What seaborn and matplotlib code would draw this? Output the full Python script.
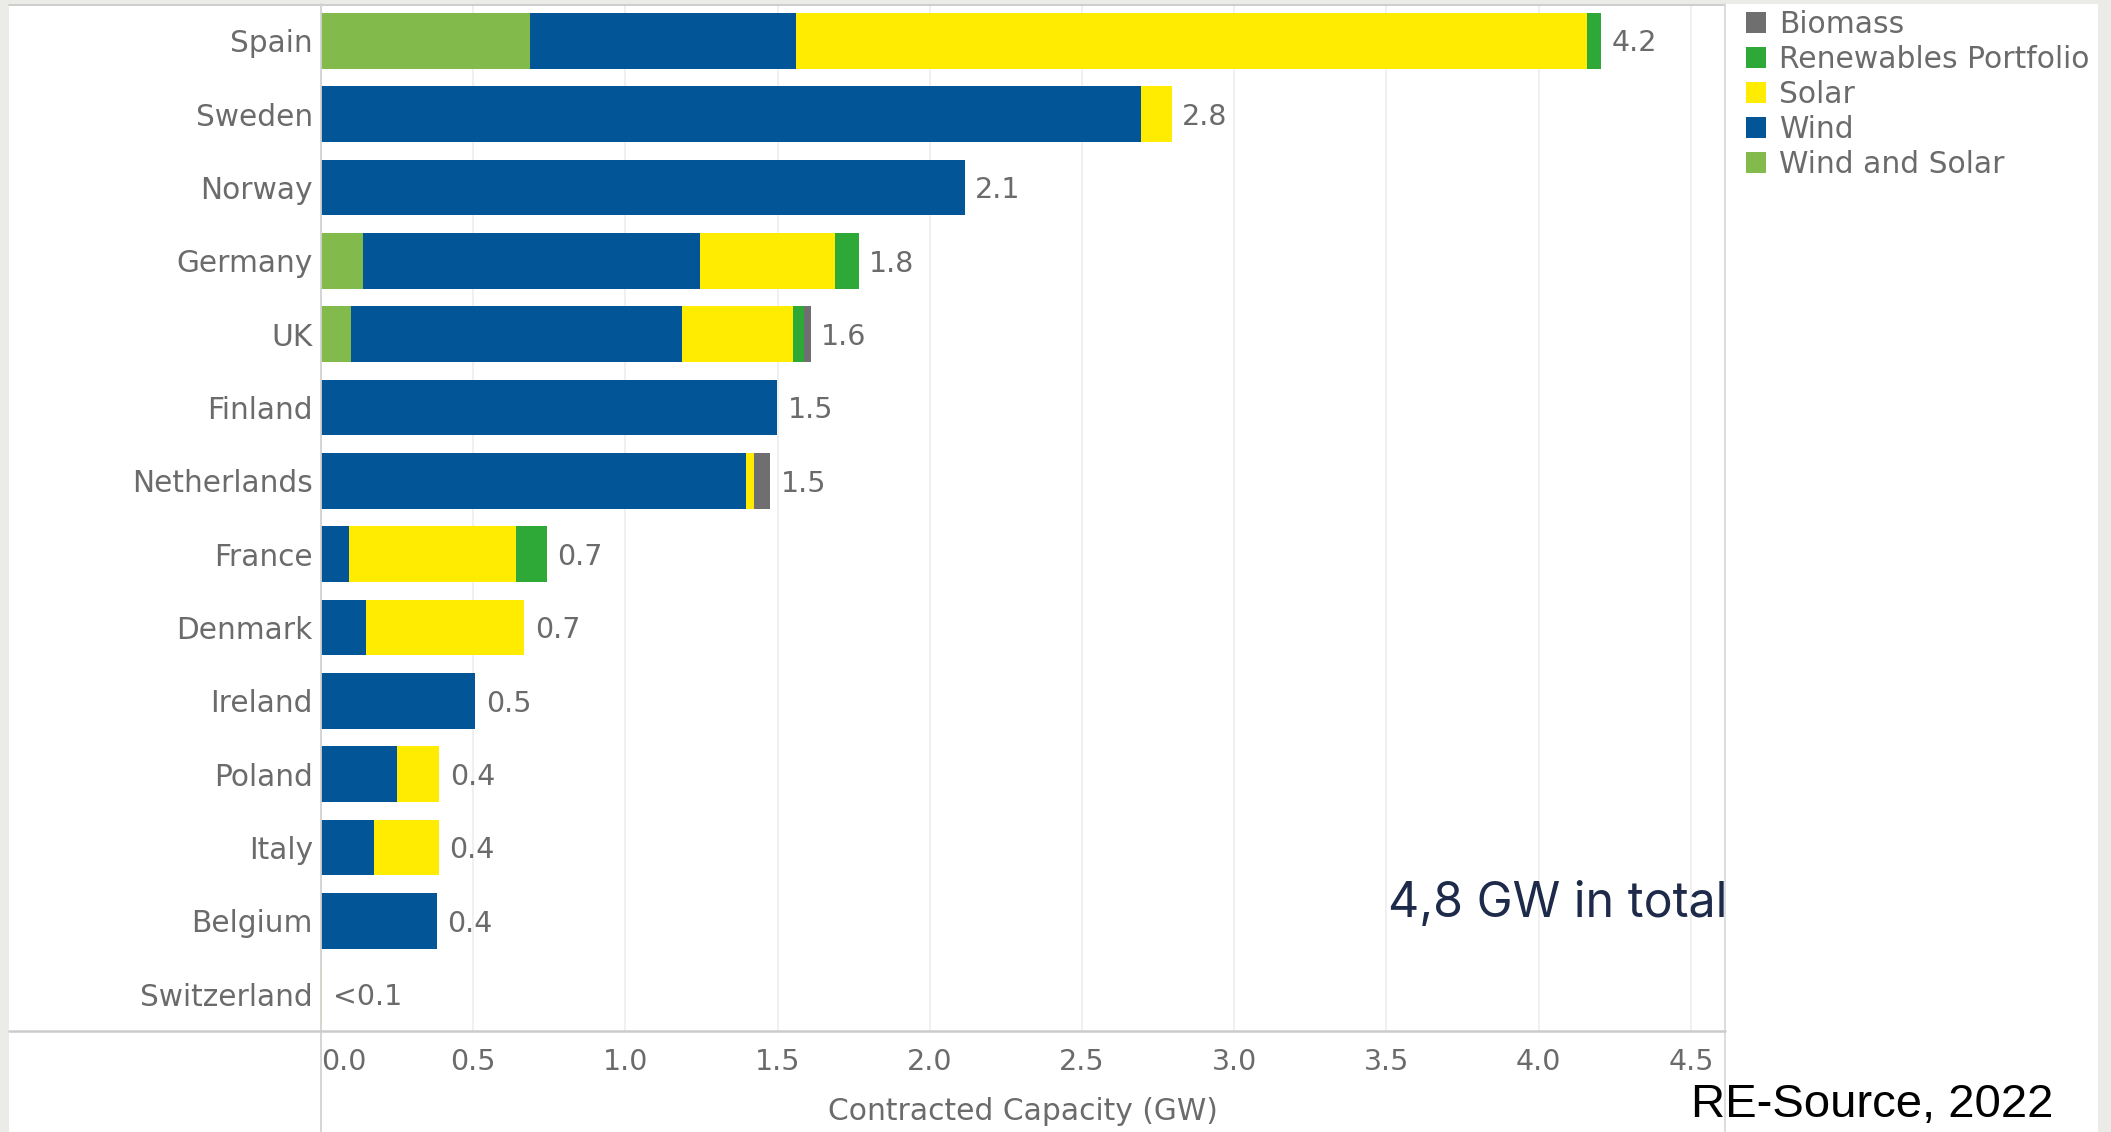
import numpy as np
import pandas as pd
import matplotlib
matplotlib.use("Agg")
import matplotlib.pyplot as plt
from matplotlib.lines import Line2D
from matplotlib.patches import Patch, Rectangle
import seaborn as sns

# Contracted capacity (GW) per country and technology
countries = ["Spain", "Sweden", "Norway", "Germany", "UK", "Finland", "Netherlands",
             "France", "Denmark", "Ireland", "Poland", "Italy", "Belgium", "Switzerland"]
wind_and_solar = [0.687, 0, 0, 0.137, 0.099, 0, 0, 0, 0, 0, 0, 0, 0, 0]
wind = [0.873, 2.694, 2.115, 1.108, 1.086, 1.498, 1.396, 0.092, 0.147, 0.507, 0.250, 0.173, 0.380, 0]
solar = [2.598, 0.101, 0, 0.443, 0.365, 0, 0.027, 0.547, 0.521, 0, 0.139, 0.213, 0, 0.004]
renewables_portfolio = [0.046, 0, 0, 0.079, 0.038, 0, 0, 0.104, 0, 0, 0, 0, 0, 0]
biomass = [0, 0, 0, 0, 0.021, 0, 0.053, 0, 0, 0, 0, 0, 0, 0]

x_ticks = [0.0, 0.5, 1.0, 1.5, 2.0, 2.5, 3.0, 3.5, 4.0, 4.5]
x_tick_labels = ["0.0", "0.5", "1.0", "1.5", "2.0", "2.5", "3.0", "3.5", "4.0", "4.5"]

# Stack order from the axis outward
segments = [
    ("Wind and Solar", wind_and_solar, "#82bb4b"),
    ("Wind", wind, "#025596"),
    ("Solar", solar, "#ffec00"),
    ("Renewables Portfolio", renewables_portfolio, "#2ea836"),
    ("Biomass", biomass, "#6f6f6f"),
]
legend_order = ["Biomass", "Renewables Portfolio", "Solar", "Wind", "Wind and Solar"]

df = pd.DataFrame({"country": countries})
running = np.zeros(len(countries))
cum_cols = []
for name, vals, color in segments:
    running = running + np.array(vals, dtype=float)
    df[name + "_cum"] = running.copy()
    cum_cols.append((name, color))
df["total"] = running

sns.set_style("white")
plt.rcParams["font.family"] = ["DejaVu Sans"]

W, H = 2111, 1132
fig = plt.figure(figsize=(W / 100, H / 100), dpi=100, facecolor="#ebebe7")

def fx(px):
    return px / W

def fy(py):
    return 1 - py / H

# White panel
fig.add_artist(Rectangle((fx(9), 0), fx(2098) - fx(9), fy(4), transform=fig.transFigure,
                         facecolor="white", edgecolor="none", zorder=0))

ax = fig.add_axes([fx(321), fy(1031), fx(1725) - fx(321), fy(4) - fy(1031)])
ax.set_facecolor("white")
ax.patch.set_alpha(0)

# Draw cumulative totals from the outermost segment inward so each layer stays visible
for name, color in reversed(cum_cols):
    sns.barplot(data=df, x=name + "_cum", y="country", orient="h", color=color,
                width=0.76, linewidth=0, saturation=1, ax=ax, zorder=3)

ax.set_xlim(0, 4.612)
ax.set_ylim(13.5, -0.5)
for s in ax.spines.values():
    s.set_visible(False)

ax.set_xticks(x_ticks)
ax.set_xticklabels(x_tick_labels)
ax.xaxis.grid(True, color="#ededed", linewidth=1.2, zorder=0)
ax.set_axisbelow(True)
ax.tick_params(axis="x", length=5, width=1, color="#e4e4e4", labelsize=20.5,
               labelcolor="#6b6b6b", pad=7.5)
ax.tick_params(axis="y", length=0, labelsize=21.3, labelcolor="#6b6b6b", pad=6)
ax.get_xticklabels()[0].set_horizontalalignment("left")
ax.set_ylabel("")
ax.set_xlabel("Contracted Capacity (GW)", fontsize=21.4, color="#6b6b6b", labelpad=15)

# Total labels at the end of each bar
for i, total in enumerate(df["total"]):
    txt = "<0.1" if total < 0.05 else f"{total:.1f}"
    ax.annotate(txt, (total, i), xytext=(7.5, -2), textcoords="offset points",
                va="center", ha="left", fontsize=20.5, color="#6b6b6b", zorder=5)

# Frame lines of the layout
line_kw = dict(transform=fig.transFigure, zorder=10)
fig.add_artist(Line2D([fx(9), fx(1725)], [fy(4.5), fy(4.5)], color="#c9c9c9", lw=1.3, **line_kw))
fig.add_artist(Line2D([fx(321), fx(321)], [fy(4), 0], color="#d2d2d2", lw=1.3, **line_kw))
fig.add_artist(Line2D([fx(1725), fx(1725)], [fy(4), 0], color="#dadada", lw=1.3, **line_kw))
fig.add_artist(Line2D([fx(9), fx(1725)], [fy(1031), fy(1031)], color="#cccccc", lw=1.8, **line_kw))

# Legend
colors = {name: color for name, _, color in segments}
handles = [Patch(facecolor=colors[n], edgecolor="none", label=n) for n in legend_order]
fig.legend(handles=handles, loc="upper left", bbox_to_anchor=(fx(1746), fy(10)),
           frameon=False, fontsize=21.4, labelcolor="#6b6b6b", handlelength=0.68,
           handleheight=0.68, handletextpad=0.42, labelspacing=0.2, borderpad=0,
           borderaxespad=0)

fig.text(fx(1727), fy(917), "4,8 GW in total", ha="right", va="baseline",
         fontsize=34.8, color="#1e2a4a", family=["Inter", "DejaVu Sans"])
fig.text(fx(1691), fy(1117), "RE-Source, 2022", ha="left", va="baseline",
         fontsize=34, color="black", family=["Liberation Sans", "DejaVu Sans"])

fig.savefig("out.png", dpi=100, facecolor=fig.get_facecolor())
